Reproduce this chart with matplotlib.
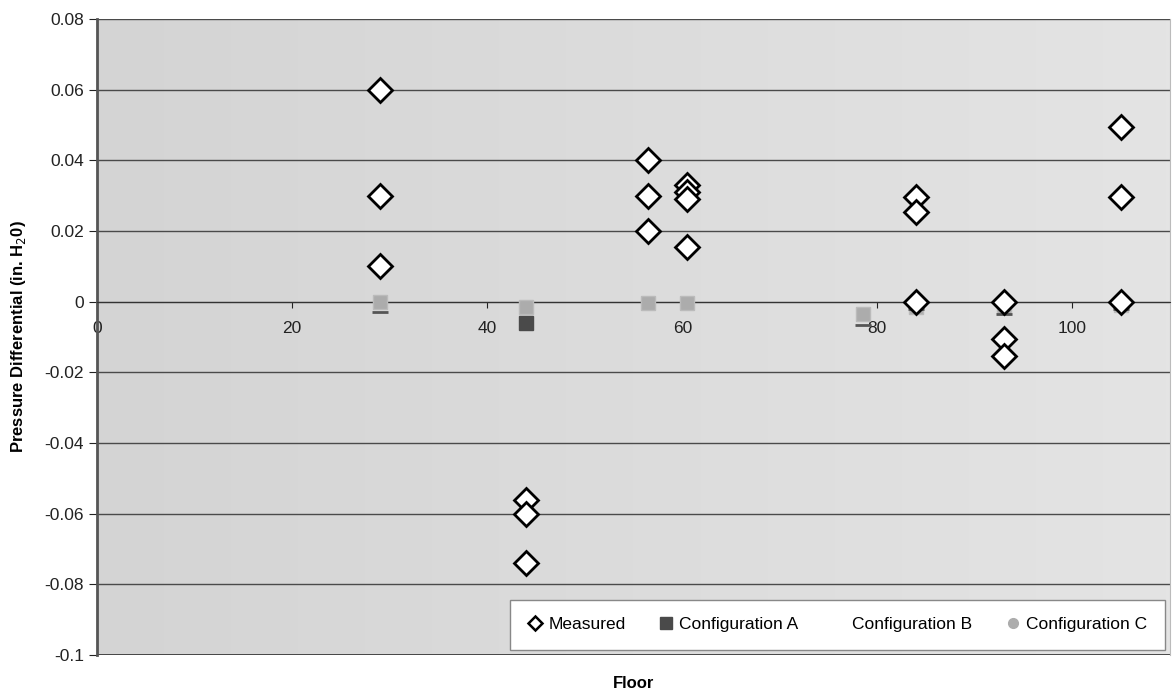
import numpy as np
import matplotlib
matplotlib.use('Agg')
import matplotlib.pyplot as plt
from matplotlib.lines import Line2D
from matplotlib.colors import LinearSegmentedColormap

plt.rcParams['font.family'] = ['Liberation Sans', 'DejaVu Sans']

# Measured pressure differentials
measured_floor = [29, 29, 29, 44, 44, 44, 56.5, 56.5, 56.5,
                  60.5, 60.5, 60.5, 60.5, 84, 84, 84, 93, 93, 93, 105, 105, 105]
measured_dp = [0.06, 0.03, 0.01, -0.056, -0.06, -0.074, 0.04, 0.03, 0.02,
               0.033, 0.031, 0.029, 0.0155, 0.0295, 0.0255, 0.0, 0.0, -0.0105, -0.0155,
               0.0495, 0.0295, 0.0]

# Model configurations
config_a_floor = [44]
config_a_dp = [-0.006]

config_b_floor = [29, 78.5, 84, 93, 105]
config_b_dp = [-0.003, -0.0065, -0.002, -0.0035, -0.002]

config_c_floor = [29, 44, 56.5, 60.5, 78.5, 84, 93, 105]
config_c_dp = [0.0, -0.0015, -0.0005, -0.0005, -0.0035, -0.0015, -0.0015, -0.001]

fig = plt.figure(figsize=(11.73, 6.93), dpi=100)
ax = fig.add_axes([97 / 1173, 38 / 693, 1073 / 1173, 636 / 693])

# gray gradient plot area
cmap = LinearSegmentedColormap.from_list('bg', ['#d4d4d4', '#e4e4e4'])
grad = np.linspace(0, 1, 256).reshape(1, -1)
ax.imshow(grad, cmap=cmap, aspect='auto', extent=[0, 1, 0, 1],
          transform=ax.transAxes, zorder=0)

ax.set_xlim(0, 110)
ax.set_ylim(-0.1, 0.08)
ax.set_yticks(np.arange(-0.1, 0.0801, 0.02))
ax.set_yticklabels(['-0.1', '-0.08', '-0.06', '-0.04', '-0.02', '0',
                    '0.02', '0.04', '0.06', '0.08'])
ax.set_xticks([0, 20, 40, 60, 80, 100])
ax.yaxis.grid(True, color='#4a4a4a', linewidth=1.0, zorder=1)
ax.set_axisbelow(True)

ax.spines['bottom'].set_position(('data', 0))
ax.spines['bottom'].set_color('#333333')
ax.spines['left'].set_color('#555555')
ax.spines['left'].set_linewidth(2)
ax.spines['top'].set_visible(False)
ax.spines['right'].set_color('#bbbbbb')
ax.tick_params(axis='y', direction='out', length=6, labelsize=12.5, colors='#222222')
ax.tick_params(axis='x', direction='out', length=4, labelsize=12.5, colors='#222222', pad=10)
ax.axhline(-0.1, color='#333333', linewidth=1.2, zorder=2)

ax.plot(config_c_floor, config_c_dp, linestyle='none', marker='s', markersize=10,
        color='#acacac', markeredgecolor='#bbbbbb', zorder=3)
ax.plot(config_b_floor, config_b_dp, linestyle='none', marker='_', markersize=11,
        markeredgewidth=2, color='#555555', zorder=3)
ax.plot(config_a_floor, config_a_dp, linestyle='none', marker='s', markersize=10,
        color='#4a4a4a', zorder=3)
ax.plot(measured_floor, measured_dp, linestyle='none', marker='D', markersize=12,
        markerfacecolor='white', markeredgecolor='black', markeredgewidth=2, zorder=4)

ax.set_ylabel('Pressure Differential (in. H$_2$0)', fontsize=12, fontweight='bold', labelpad=12)
fig.text(0.5 * (97 + 1170) / 1173, 1 - 683 / 693, 'Floor', fontsize=12,
         fontweight='bold', ha='center', va='center')

handles = [
    Line2D([], [], linestyle='none', marker='D', markersize=7, markerfacecolor='white',
           markeredgecolor='black', markeredgewidth=1.8),
    Line2D([], [], linestyle='none', marker='s', markersize=8, color='#4a4a4a'),
    Line2D([], [], linestyle='none', marker='none'),
    Line2D([], [], linestyle='none', marker='o', markersize=7, color='#acacac'),
]
labels = ['Measured', 'Configuration A', 'Configuration B', 'Configuration C']
leg = ax.legend(handles, labels, loc='lower right', ncol=4, fontsize=12.5,
                frameon=True, fancybox=False, edgecolor='#888888',
                handlelength=0.9, handletextpad=0.3, columnspacing=1.9,
                borderaxespad=0.3, borderpad=1.0)
leg.get_frame().set_facecolor('white')
leg.get_frame().set_alpha(1)
leg.set_zorder(5)

fig.savefig('out.png', dpi=100)
